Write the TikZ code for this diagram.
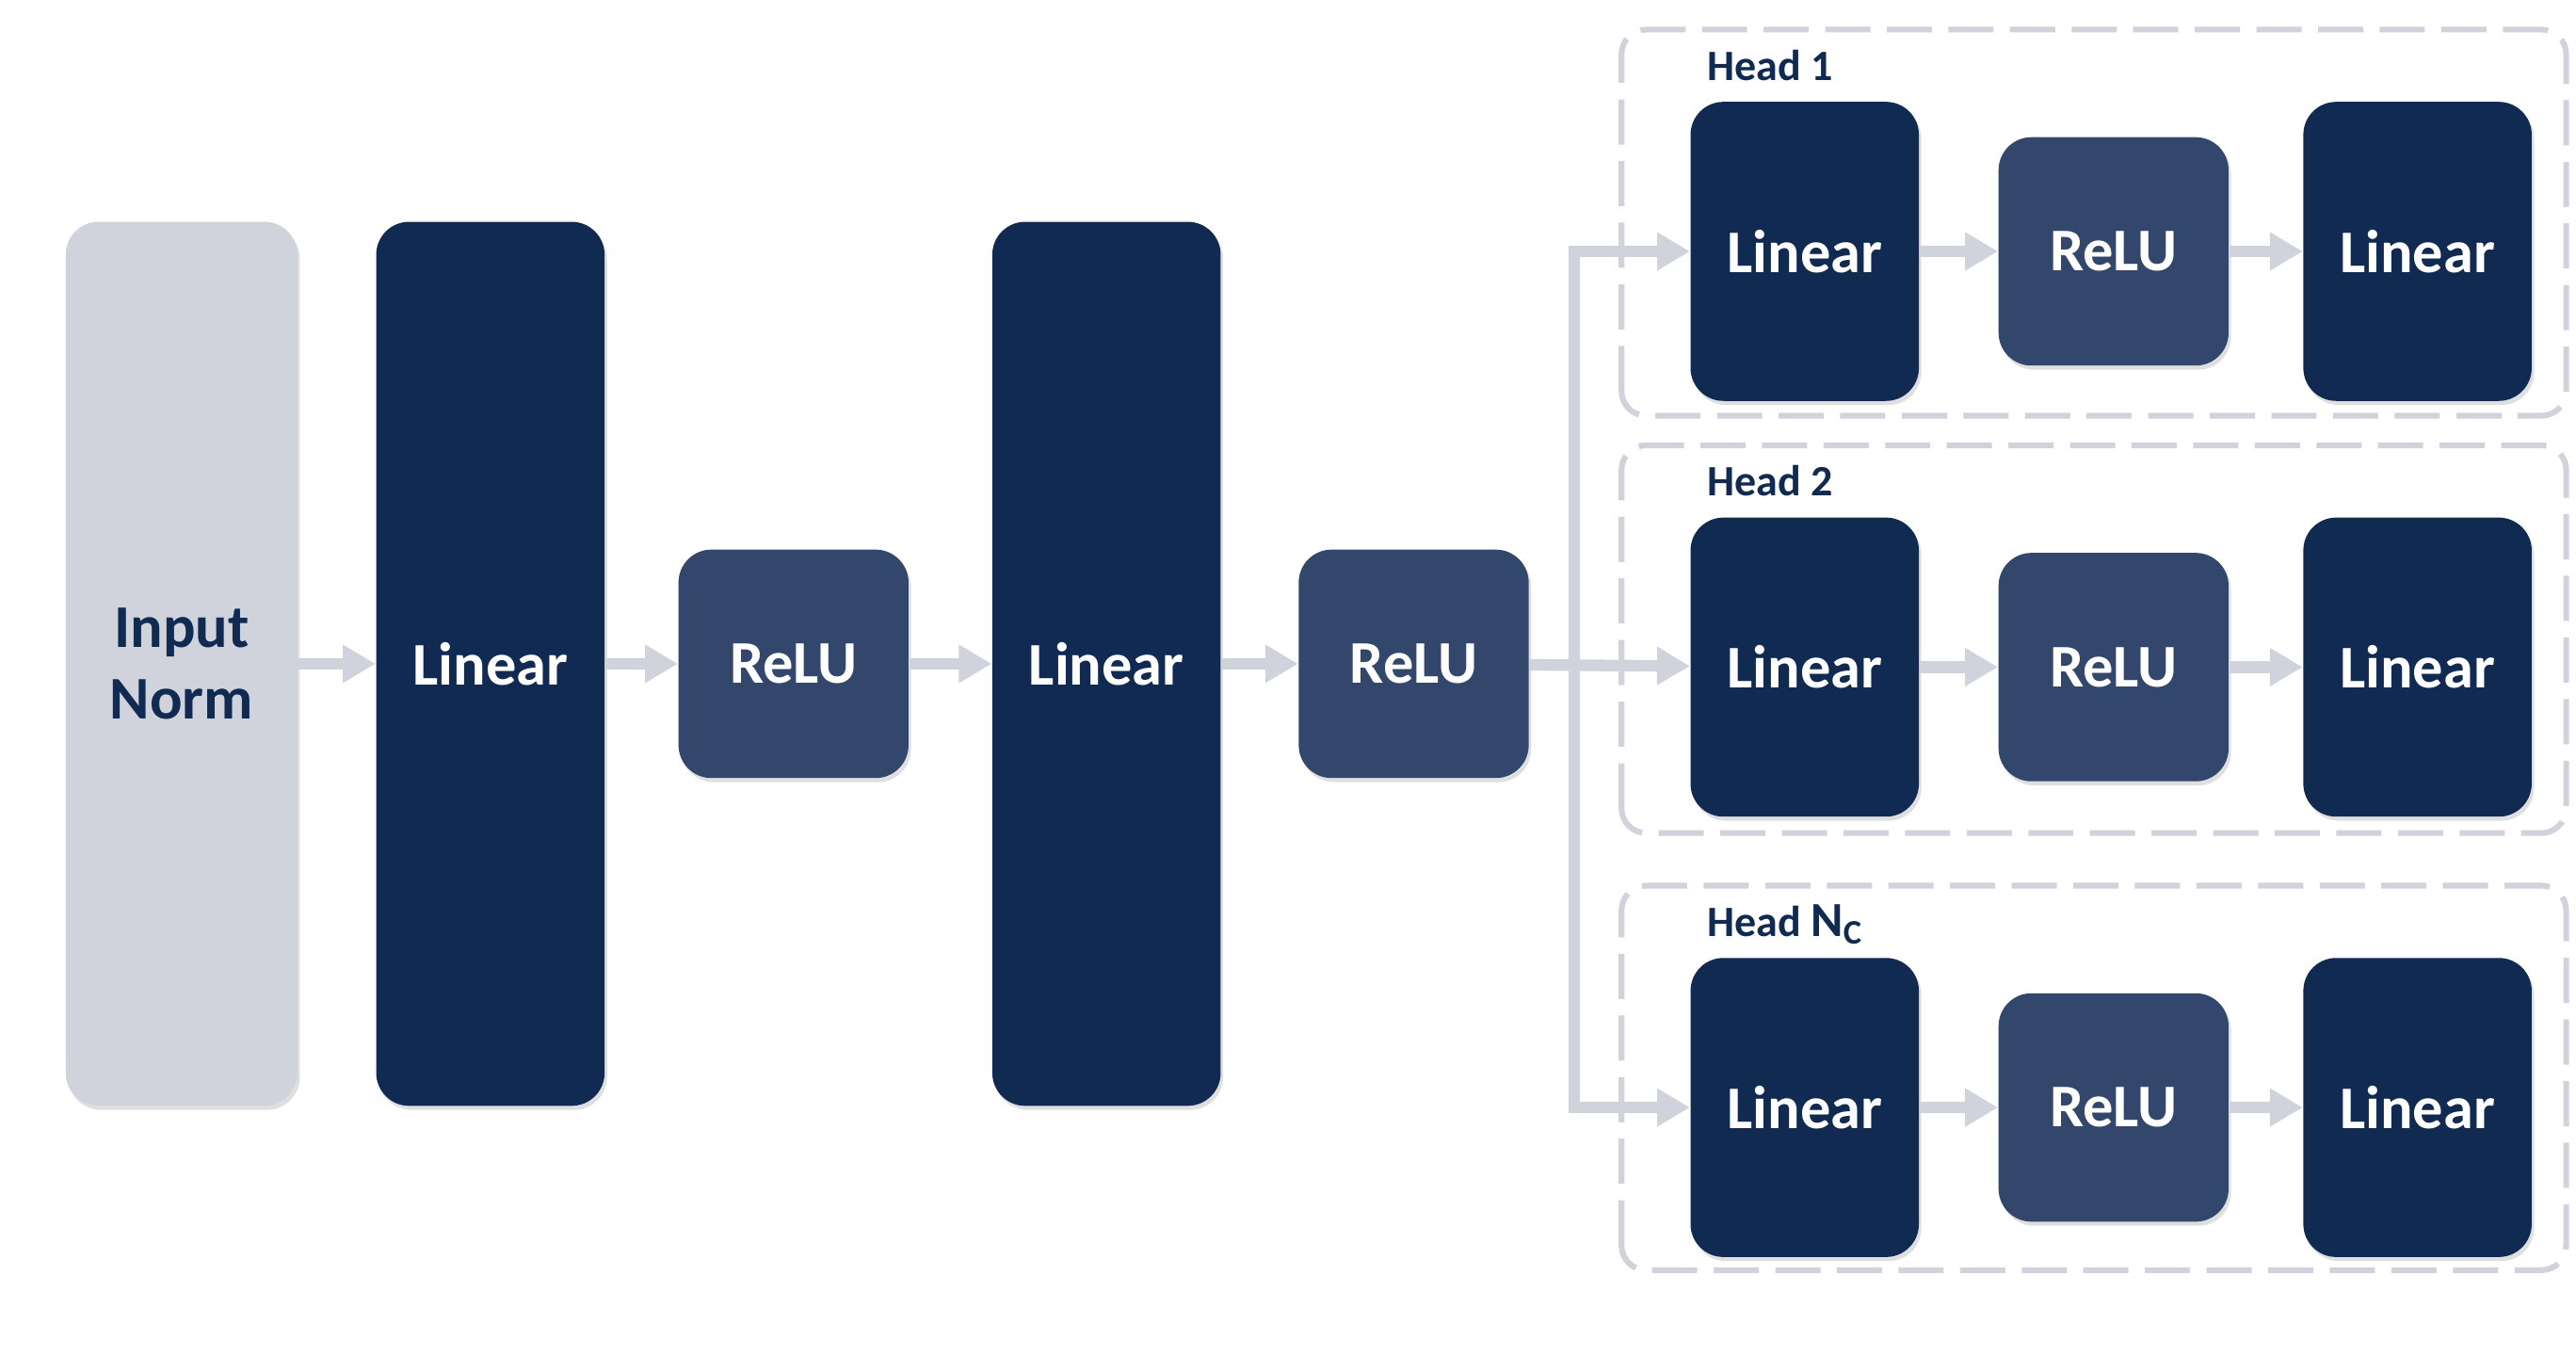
\documentclass[tikz,border=0pt]{standalone}
\usepackage{fontspec}
\setmainfont{Carlito}
\usepackage{amsmath}
\usetikzlibrary{calc, positioning, arrows.meta, shadows}

\definecolor{navy}{HTML}{102A52}
\definecolor{slate}{HTML}{32476B}
\definecolor{mist}{HTML}{D0D3DC}

\begin{document}
\begin{tikzpicture}[
    block/.style={rounded corners=0.4cm, inner sep=0pt, align=center,
      font=\fontsize{21}{25}\selectfont\bfseries,
      drop shadow={opacity=0.25, shadow xshift=0.03cm, shadow yshift=-0.05cm}},
    linear/.style={block, fill=navy, text=white, minimum width=2.78cm},
    relu/.style={block, fill=slate, text=white, minimum width=2.8cm, minimum height=2.78cm},
    norm/.style={block, fill=mist, text=navy, minimum width=2.82cm, minimum height=10.76cm},
    flow/.style={draw=mist, line width=4pt, -{Triangle[length=0.4cm, width=0.44cm]}},
    headbox/.style={draw=mist, line width=2pt, dash pattern=on 0.55cm off 0.2cm, rounded corners=0.3cm},
    headlabel/.style={text=navy, font=\fontsize{15}{18}\selectfont\bfseries, anchor=base west, inner sep=0pt}
  ]
  \useasboundingbox (0,0) rectangle (31.36,16.5);

  % Shared trunk
  \node[norm] (innorm) at (2.21,8.42) {Input\\Norm};
  \node[linear, minimum height=10.76cm] (lin1) at (5.97,8.42) {Linear};
  \node[relu] (relu1) at (9.66,8.42) {ReLU};
  \node[linear, minimum height=10.76cm] (lin2) at (13.47,8.42) {Linear};
  \node[relu] (relu2) at (17.21,8.42) {ReLU};

  \draw[flow] (innorm) -- (lin1);
  \draw[flow] (lin1) -- (relu1);
  \draw[flow] (relu1) -- (lin2);
  \draw[flow] (lin2) -- (relu2);

  % Heads: row / top / bottom of the dashed frame / label
  \foreach \row/\ytop/\ybot/\lbl in {1/16.14/11.44/{Head 1},
                                      2/11.08/6.36/{Head 2},
                                      3/5.72/1.04/{Head {\fontsize{17}{18}\selectfont$\mathbf{N_C}$}}} {
    \pgfmathsetmacro{\yc}{\ytop - 2.7}
    \draw[headbox] (19.74,\ybot) rectangle (31.24,\ytop);
    \node[headlabel] (lbl\row) at (20.78,\ytop-0.62) {\lbl};
    \node[linear, minimum height=3.64cm] (h\row lin1) at (21.97,\yc) {Linear};
    \node[relu] (h\row relu) at (25.73,\yc) {ReLU};
    \node[linear, minimum height=3.64cm] (h\row lin2) at (29.43,\yc) {Linear};
    \draw[flow] (h\row lin1) -- (h\row relu);
    \draw[flow] (h\row relu) -- (h\row lin2);
  }

  % Split into the heads
  \coordinate (bus) at (19.16,8.42);
  \draw[flow] (relu2) -- (h2lin1);
  \draw[flow] (bus) |- (h1lin1.west);
  \draw[flow] (bus) |- (h3lin1.west);

\end{tikzpicture}
\end{document}
